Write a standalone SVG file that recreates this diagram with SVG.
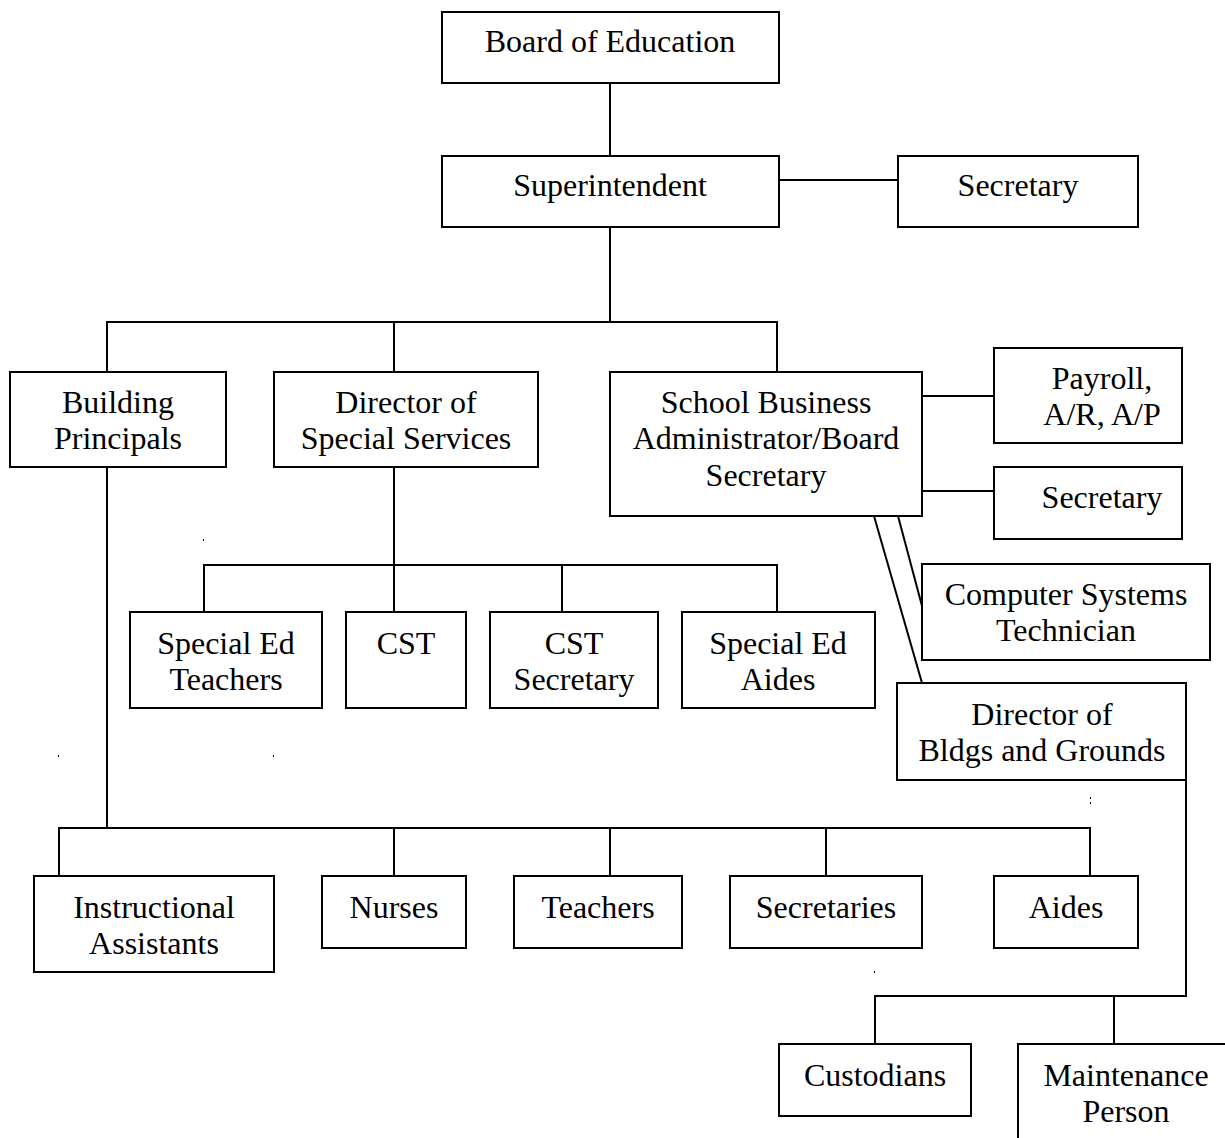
<svg xmlns="http://www.w3.org/2000/svg" width="1225" height="1138" viewBox="0 0 1225 1138">
<style>
rect.n{fill:#fff;stroke:#000;stroke-width:2}
text{font-family:"Liberation Serif","Times New Roman",serif;font-size:32px;fill:#000;text-anchor:middle}
.c line,.c polyline{stroke:#000;stroke-width:2;fill:none}
.d{fill:#000}
</style>
<rect width="1225" height="1138" fill="#fff"/>
<g class="c" id="connectors">
<line x1="610" y1="83" x2="610" y2="156"/>
<line x1="779" y1="180" x2="898" y2="180"/>
<line x1="610" y1="227" x2="610" y2="322"/>
<polyline points="107,372 107,322 777,322 777,372"/>
<line x1="394" y1="322" x2="394" y2="372"/>
<line x1="922" y1="396" x2="994" y2="396"/>
<line x1="922" y1="491" x2="994" y2="491"/>
<line x1="874" y1="516" x2="922" y2="683"/>
<line x1="898" y1="516" x2="922" y2="606"/>
<line x1="394" y1="467" x2="394" y2="565"/>
<polyline points="204,612 204,565 777,565 777,612"/>
<line x1="394" y1="565" x2="394" y2="612"/>
<line x1="562" y1="565" x2="562" y2="612"/>
<line x1="107" y1="467" x2="107" y2="828"/>
<polyline points="59,876 59,828 1090,828 1090,876"/>
<line x1="394" y1="828" x2="394" y2="876"/>
<line x1="610" y1="828" x2="610" y2="876"/>
<line x1="826" y1="828" x2="826" y2="876"/>
<polyline points="1186,780 1186,996 875,996 875,1044"/>
<line x1="1114" y1="996" x2="1114" y2="1044"/>
</g>
<g id="board"><rect class="n" x="442" y="12" width="337" height="71"/><text x="610" y="52">Board of Education</text></g>
<g id="superintendent"><rect class="n" x="442" y="156" width="337" height="71"/><text x="610" y="196">Superintendent</text></g>
<g id="secretary-top"><rect class="n" x="898" y="156" width="240" height="71"/><text x="1018" y="196">Secretary</text></g>
<g id="building-principals"><rect class="n" x="10" y="372" width="216" height="95"/><text x="118" y="413">Building</text><text x="118" y="449">Principals</text></g>
<g id="director-special"><rect class="n" x="274" y="372" width="264" height="95"/><text x="406" y="413">Director of</text><text x="406" y="449">Special Services</text></g>
<g id="sba"><rect class="n" x="610" y="372" width="312" height="144"/><text x="766" y="413">School Business</text><text x="766" y="449">Administrator/Board</text><text x="766" y="486">Secretary</text></g>
<g id="payroll"><rect class="n" x="994" y="348" width="188" height="95"/><text x="1102" y="389">Payroll,</text><text x="1102" y="425">A/R, A/P</text></g>
<g id="secretary-sba"><rect class="n" x="994" y="467" width="188" height="72"/><text x="1102" y="508">Secretary</text></g>
<g id="computer"><rect class="n" x="922" y="564" width="288" height="96"/><text x="1066" y="605">Computer Systems</text><text x="1066" y="641">Technician</text></g>
<g id="director-bldgs"><rect class="n" x="897" y="683" width="289" height="97"/><text x="1042" y="725">Director of</text><text x="1042" y="761">Bldgs and Grounds</text></g>
<g id="sped-teachers"><rect class="n" x="130" y="612" width="192" height="96"/><text x="226" y="654">Special Ed</text><text x="226" y="690">Teachers</text></g>
<g id="cst"><rect class="n" x="346" y="612" width="120" height="96"/><text x="406" y="654">CST</text></g>
<g id="cst-secretary"><rect class="n" x="490" y="612" width="168" height="96"/><text x="574" y="654">CST</text><text x="574" y="690">Secretary</text></g>
<g id="sped-aides"><rect class="n" x="682" y="612" width="193" height="96"/><text x="778" y="654">Special Ed</text><text x="778" y="690">Aides</text></g>
<g id="instructional"><rect class="n" x="34" y="876" width="240" height="96"/><text x="154" y="918">Instructional</text><text x="154" y="954">Assistants</text></g>
<g id="nurses"><rect class="n" x="322" y="876" width="144" height="72"/><text x="394" y="918">Nurses</text></g>
<g id="teachers"><rect class="n" x="514" y="876" width="168" height="72"/><text x="598" y="918">Teachers</text></g>
<g id="secretaries"><rect class="n" x="730" y="876" width="192" height="72"/><text x="826" y="918">Secretaries</text></g>
<g id="aides"><rect class="n" x="994" y="876" width="144" height="72"/><text x="1066" y="918">Aides</text></g>
<g id="custodians"><rect class="n" x="779" y="1044" width="192" height="72"/><text x="875" y="1086">Custodians</text></g>
<g id="maintenance"><rect class="n" x="1018" y="1044" width="220" height="110"/><text x="1126" y="1086">Maintenance</text><text x="1126" y="1122">Person</text></g>
<g id="marks">
<rect class="d" x="203" y="539" width="1" height="2"/>
<rect class="d" x="58" y="755" width="1" height="2"/>
<rect class="d" x="273" y="755" width="1" height="2"/>
<rect class="d" x="1090" y="797" width="1" height="2"/>
<rect class="d" x="1090" y="802" width="1" height="2"/>
<rect class="d" x="874" y="971" width="1" height="2"/>
</g>
</svg>
